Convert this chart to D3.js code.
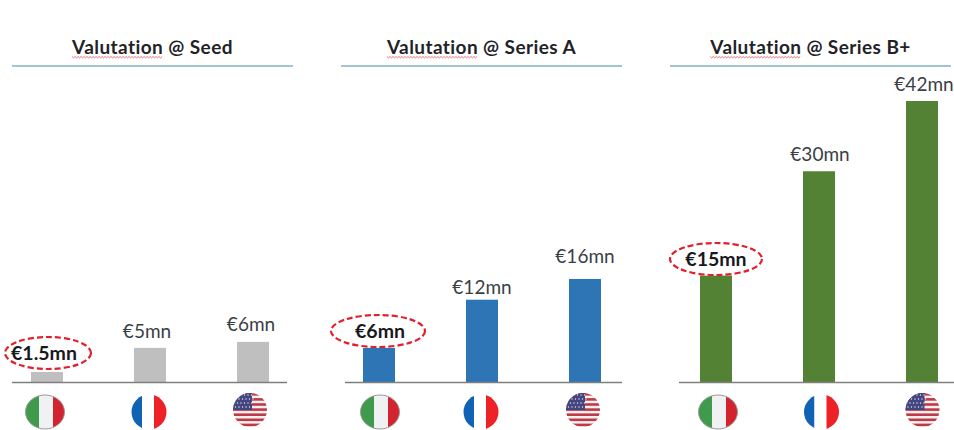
<!DOCTYPE html>
<html><head><meta charset="utf-8">
<script src="https://cdn.jsdelivr.net/npm/d3@7/dist/d3.min.js"></script>
<style>html,body{margin:0;background:#fff}svg{display:block}text{font-family:Lato,"Open Sans",sans-serif}</style>
</head><body><svg id="c" width="954" height="430"></svg>
<script>
const countries = ["Italy","France","USA"];
const panelTitles = ["Valutation @ Seed","Valutation @ Series A","Valutation @ Series B+"];
const seedLabels = ["€1.5mn","€5mn","€6mn"];
const seriesALabels = ["€6mn","€12mn","€16mn"];
const seriesBLabels = ["€15mn","€30mn","€42mn"];
// bar heights, in €mn on the drawn scale
const seedBars = [1.5,5.1,6];
const seriesABars = [5.1,12.3,15.4];
const seriesBBars = [15.9,31.5,42];
const panelFill = ["#bfbfbf","#2e75b6","#548235"];

const svg = d3.select("#c");
const y = d3.scaleLinear().domain([0,42]).range([382,101]);
const layouts = [
  {off:0, rule:[12,293], base:[12,287], ell:[48,353,43,16], labelDx:-4, lift:[0,10,11], labelX:[0,-3,-2], flagX:[45,149,250], labels:seedLabels, bars:seedBars},
  {off:332, rule:[341,622], base:[345,622], ell:[378,331,47,16], labelDx:2, lift:[0,6,16], labelX:[0,0,0], flagX:[380,481,583], labels:seriesALabels, bars:seriesABars},
  {off:669, rule:[670,951], base:[679,954], ell:[716,259,46,16], labelDx:0, lift:[0,10,10], labelX:[0,1,2], flagX:[718,821.5,922.5], labels:seriesBLabels, bars:seriesBBars}
];
const x0 = d3.scalePoint().domain(countries).range([47,253]);

const defs = svg.append("defs");
const flagR = {Italy:[19.5,17],France:[17.5,17.5],USA:[17,17]};
countries.forEach(c=>defs.append("clipPath").attr("id","clip"+c).append("ellipse").attr("rx",flagR[c][0]).attr("ry",flagR[c][1]));

function flag(g,c){
  const clip = g.append("g").attr("clip-path",`url(#clip${c})`);
  if(c==="Italy"){
    clip.append("rect").attr("x",-20).attr("y",-18).attr("width",14).attr("height",36).attr("fill","#3f9a4b");
    clip.append("rect").attr("x",-6).attr("y",-18).attr("width",14).attr("height",36).attr("fill","#f0f1f3");
    clip.append("rect").attr("x",8).attr("y",-18).attr("width",12).attr("height",36).attr("fill","#d2232f");
    g.append("ellipse").attr("rx",flagR[c][0]).attr("ry",flagR[c][1]).attr("fill","none").attr("stroke","#9a9a9a").attr("stroke-width",1);
  } else if(c==="France"){
    clip.append("rect").attr("x",-20).attr("y",-18).attr("width",13).attr("height",36).attr("fill","#0f62b4");
    clip.append("rect").attr("x",-7).attr("y",-18).attr("width",12).attr("height",36).attr("fill","#ffffff");
    clip.append("rect").attr("x",5).attr("y",-18).attr("width",15).attr("height",36).attr("fill","#ee2127");
  } else {
    clip.append("rect").attr("x",-20).attr("y",-18).attr("width",40).attr("height",36).attr("fill","#f6f1f1");
    d3.range(7).forEach(i=>clip.append("rect").attr("x",-20).attr("y",-17+i*5.1).attr("width",40).attr("height",2.6).attr("fill","#bf3a48"));
    clip.append("rect").attr("x",-20).attr("y",-18).attr("width",22).attr("height",18).attr("fill","#43467f");
    d3.range(4).forEach(r=>d3.range(6).forEach(k=>clip.append("circle").attr("cx",-16+k*3.5+(r%2)*1.5).attr("cy",-15+r*4).attr("r",.7).attr("fill","#e8e8f2")));
  }
}

layouts.forEach((p,i)=>{
  const g = svg.append("g");
  const mid = (p.rule[0]+p.rule[1])/2;
  const title = g.append("text").attr("x",mid).attr("y",54).attr("text-anchor","middle")
    .attr("font-size",19).attr("font-weight",700).attr("letter-spacing",.42).attr("fill","#1f2328").text(panelTitles[i]);
  // wavy spell-check underline beneath the first word
  const word = title.node().getSubStringLength(0,10);
  const start = title.node().getStartPositionOfChar(0).x;
  const pts = d3.range(0,Math.floor(word/1.5)+1).map(k=>[start+k*1.5, 56.5+(k%2)*1.4]);
  g.append("path").attr("d",d3.line()(pts)).attr("fill","none").attr("stroke","#d9363e").attr("stroke-width",.7);
  g.append("line").attr("x1",p.rule[0]).attr("x2",p.rule[1]).attr("y1",66).attr("y2",66).attr("stroke","#7fb3c4").attr("stroke-width",1.5);

  const x = c=>x0(c)+p.off;
  g.selectAll("rect.bar").data(countries).join("rect").attr("class","bar")
    .attr("x",c=>x(c)-16).attr("width",32)
    .attr("y",(c,j)=>y(p.bars[j])).attr("height",(c,j)=>y(0)-y(p.bars[j])).attr("fill",panelFill[i]);
  g.append("line").attr("x1",p.base[0]).attr("x2",p.base[1]).attr("y1",382.5).attr("y2",382.5).attr("stroke","#7f7f7f").attr("stroke-width",1.5);

  g.append("ellipse").attr("cx",p.ell[0]).attr("cy",p.ell[1]).attr("rx",p.ell[2]).attr("ry",p.ell[3])
    .attr("fill","none").attr("stroke","#e0202c").attr("stroke-width",2.2).attr("stroke-dasharray","6 3");

  g.selectAll("text.val").data(countries).join("text").attr("class","val")
    .attr("x",(c,j)=>j===0?p.ell[0]+p.labelDx:x(c)+p.labelX[j])
    .attr("y",(c,j)=>j===0?p.ell[1]+6.5:y(p.bars[j])-p.lift[j])
    .attr("text-anchor","middle")
    .attr("font-size",(c,j)=>j===0?19.5:19)
    .attr("font-weight",(c,j)=>j===0?700:400)
    .attr("fill",(c,j)=>j===0?"#17191c":"#3a3f45")
    .text((c,j)=>p.labels[j]);

  countries.forEach((c,j)=>{
    const f = g.append("g").attr("transform",`translate(${p.flagX[j]},${c==="USA"?410:412})`);
    flag(f,c);
  });
});
</script></body></html>
